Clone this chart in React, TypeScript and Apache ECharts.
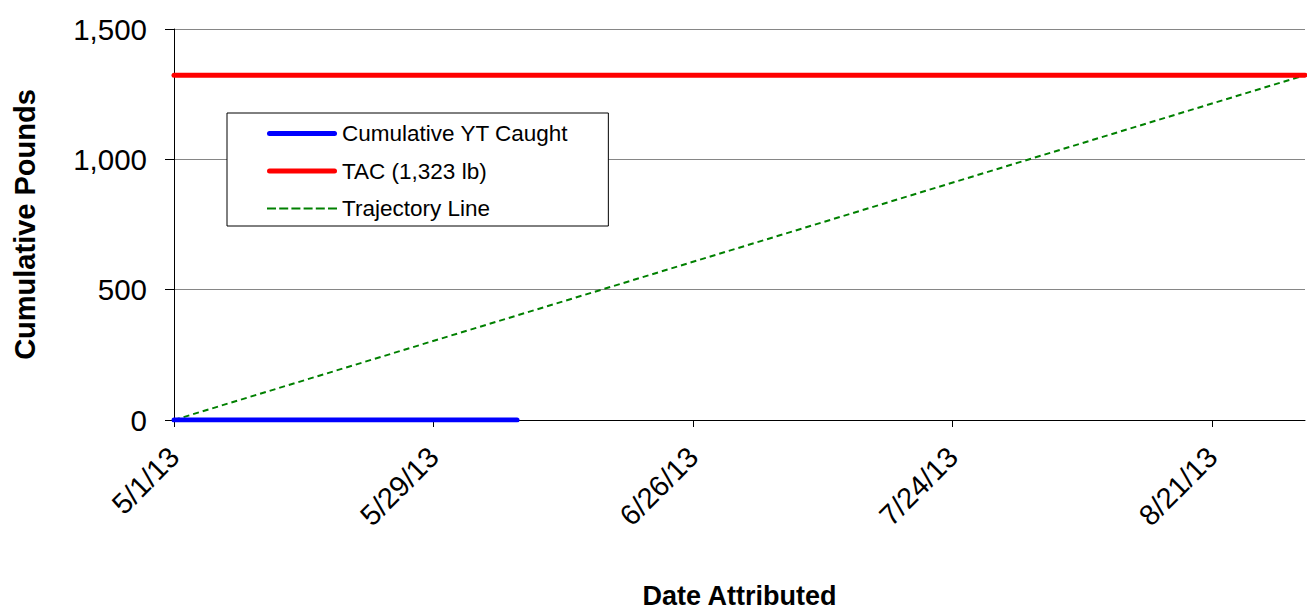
import React, { useEffect, useRef } from "react";
import * as echarts from "echarts";

// ---- data ----
const startDate = "2013-05-01";
const tickLabels = ["5/1/13", "5/29/13", "6/26/13", "7/24/13", "8/21/13"];
const yTickLabels = ["0", "500", "1,000", "1,500"];

const caughtDates = ["2013-05-01", "2013-06-07"];
const caughtValues = [0, 0];

const tacDates = ["2013-05-01", "2013-08-31"];
const tacValues = [1323, 1323];

const trajectoryDates = ["2013-05-01", "2013-08-31"];
const trajectoryValues = [0, 1323];

const seriesNames = ["Cumulative YT Caught", "TAC (1,323 lb)", "Trajectory Line"];

const dayOffset = (d: string) =>
  Math.round((Date.parse(d + "T00:00:00Z") - Date.parse(startDate + "T00:00:00Z")) / 86400000);

const toPairs = (dates: string[], vals: number[]) => dates.map((d, i) => [dayOffset(d), vals[i]]);

const FONT = "'Liberation Sans', Arial, sans-serif";

const SOLID_ICON = "path://M2.5,0H67.5A2.5,2.5,0,0,1,67.5,5H2.5A2.5,2.5,0,0,1,2.5,0Z";
const DASH_ICON =
  "path://M0,0h9v2h-9z M12.2,0h9v2h-9z M24.4,0h9v2h-9z M36.6,0h9v2h-9z M48.8,0h9v2h-9z M61,0h9v2h-9z";

export default function App() {
  const ref = useRef<HTMLDivElement>(null);
  useEffect(() => {
    if (!ref.current) return;
    const chart = echarts.init(ref.current, undefined, { renderer: "svg" });
    chart.setOption({
      animation: false,
      backgroundColor: "#ffffff",
      textStyle: { fontFamily: FONT, color: "#000" },
      grid: {
        left: 174,
        right: 2,
        top: 29,
        bottom: 190,
        containLabel: false,
        outerBoundsMode: "none",
      },
      legend: {
        show: true,
        orient: "vertical",
        left: 227,
        top: 113,
        padding: [9, 40, 6, 40],
        itemWidth: 70,
        itemHeight: 22,
        itemGap: 14.5,
        symbolKeepAspect: true,
        backgroundColor: "#fff",
        borderColor: "#000",
        borderWidth: 1,
        borderRadius: 0,
        textStyle: { fontSize: 22.5, color: "#000", fontFamily: FONT },
        data: [
          { name: seriesNames[0], icon: SOLID_ICON },
          { name: seriesNames[1], icon: SOLID_ICON },
          { name: seriesNames[2], icon: DASH_ICON },
        ],
      },
      xAxis: {
        type: "value",
        min: 0,
        max: 122,
        interval: 28,
        name: "Date Attributed",
        nameLocation: "middle",
        nameGap: 162,
        nameTextStyle: { fontSize: 27, fontWeight: "bold", color: "#000", fontFamily: FONT },
        axisLine: { show: true, lineStyle: { color: "#000", width: 1 } },
        axisTick: { show: true, length: 7, lineStyle: { color: "#000" } },
        splitLine: { show: false },
        axisLabel: {
          rotate: 45,
          margin: 32,
          fontSize: 29,
          color: "#000",
          fontFamily: FONT,
          showMaxLabel: false,
          formatter: (v: number) => tickLabels[Math.round(v / 28)] ?? "",
        },
      },
      yAxis: {
        type: "value",
        min: 0,
        max: 1500,
        interval: 500,
        name: "Cumulative Pounds",
        nameLocation: "middle",
        nameGap: 135,
        nameRotate: 90,
        nameTextStyle: { fontSize: 29, fontWeight: "bold", color: "#000", fontFamily: FONT },
        axisLine: { show: true, lineStyle: { color: "#000", width: 1 } },
        axisTick: { show: true, length: 9, lineStyle: { color: "#000" } },
        splitLine: { show: true, lineStyle: { color: "#868686", width: 1 } },
        axisLabel: {
          margin: 27,
          fontSize: 29.5,
          color: "#000",
          fontFamily: FONT,
          formatter: (v: number) => yTickLabels[Math.round(v / 500)] ?? "",
        },
      },
      series: [
        {
          name: seriesNames[0],
          type: "line",
          data: toPairs(caughtDates, caughtValues),
          symbol: "none",
          z: 5,
          lineStyle: { color: "#0000ff", width: 5, cap: "round" },
          itemStyle: { color: "#0000ff" },
        },
        {
          name: seriesNames[1],
          type: "line",
          data: toPairs(tacDates, tacValues),
          symbol: "none",
          z: 4,
          lineStyle: { color: "#ff0000", width: 5, cap: "round" },
          itemStyle: { color: "#ff0000" },
        },
        {
          name: seriesNames[2],
          type: "line",
          data: toPairs(trajectoryDates, trajectoryValues),
          symbol: "none",
          z: 3,
          lineStyle: { color: "#008000", width: 2, type: [6, 4] },
          itemStyle: { color: "#008000" },
        },
      ],
    });
    return () => chart.dispose();
  }, []);
  return (
    <div
      ref={ref}
      style={{ position: "fixed", left: 0, top: 0, width: 1307, height: 610, background: "#fff" }}
    />
  );
}
